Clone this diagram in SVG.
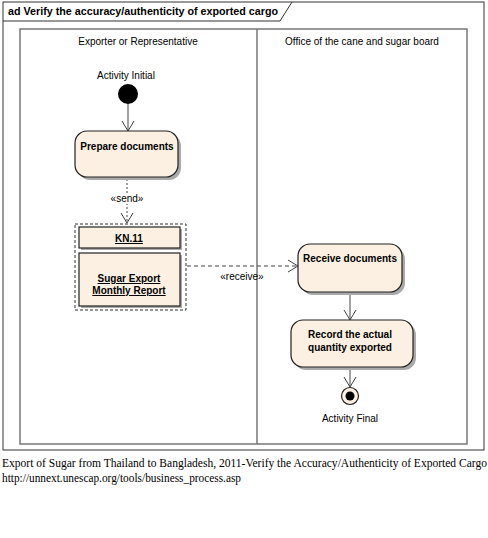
<svg xmlns="http://www.w3.org/2000/svg" width="488" height="538" viewBox="0 0 488 538">
<defs>
<style>
.frame{fill:none;stroke:#333;stroke-width:1}
.lane{fill:none;stroke:#777;stroke-width:1.5}
.node{fill:#FBF0E2;stroke:#222;stroke-width:1.2}
.shadow{fill:#aaa}
.t{font-family:"Liberation Sans",Arial,sans-serif;font-size:10px;fill:#000}
.b{font-family:"Liberation Sans",Arial,sans-serif;font-size:10px;font-weight:bold;fill:#000}
.cap{font-family:"Liberation Serif","Times New Roman",serif;font-size:11.5px;fill:#000}
.edge{fill:none;stroke:#444;stroke-width:1}
</style>
<marker id="open" markerWidth="12" markerHeight="14" refX="11" refY="7" orient="auto" markerUnits="userSpaceOnUse">
<path d="M1,1 L11,7 L1,13" fill="none" stroke="#444" stroke-width="1"/>
</marker>
</defs>
<rect x="0" y="0" width="488" height="538" fill="#fff"/>
<g id="frame">
<rect x="3" y="2" width="481" height="448" class="frame"/>
<path d="M3,21 H280 L292,2" class="frame"/>
<text x="8" y="15" class="b" font-size="11" textLength="270" lengthAdjust="spacingAndGlyphs">ad Verify the accuracy/authenticity of exported cargo</text>
</g>
<g id="lanes">
<rect x="20" y="29" width="447" height="415" class="lane"/>
<line x1="257" y1="29" x2="257" y2="444" class="lane"/>
<text x="138" y="45" class="t" text-anchor="middle">Exporter or Representative</text>
<text x="362" y="45" class="t" text-anchor="middle">Office of the cane and sugar board</text>
</g>
<g id="connectors">
<line x1="128" y1="104" x2="128" y2="131" class="edge" marker-end="url(#open)"/>
<line x1="127" y1="179" x2="127" y2="223" class="edge" stroke-dasharray="2,2" marker-end="url(#open)"/>
<rect x="108" y="193" width="40" height="11" fill="#fff"/>
<text x="127" y="202" class="t" font-size="9" text-anchor="middle">«send»</text>
<line x1="187" y1="266" x2="298" y2="266" class="edge" stroke-dasharray="4,3" marker-end="url(#open)"/>
<text x="242" y="280" class="t" font-size="9" text-anchor="middle">«receive»</text>
<line x1="350" y1="292" x2="350" y2="320" class="edge" marker-end="url(#open)"/>
<line x1="350" y1="367" x2="350" y2="387" class="edge" marker-end="url(#open)"/>
</g>
<g id="initial">
<text x="126" y="79" class="t" font-size="9.5" text-anchor="middle">Activity Initial</text>
<circle cx="128" cy="94" r="10" fill="#000"/>
</g>
<g id="prepare">
<rect x="78" y="134" width="103" height="46" rx="12" class="shadow"/>
<rect x="75" y="131" width="103" height="46" rx="12" class="node"/>
<text x="127" y="150" class="b" text-anchor="middle">Prepare documents</text>
</g>
<g id="docs">
<rect x="75" y="224" width="111" height="86" fill="none" stroke="#333" stroke-width="1" stroke-dasharray="3,2"/>
<g id="kn11">
<rect x="81" y="229" width="101" height="21" class="shadow"/>
<rect x="79" y="227" width="101" height="21" class="node"/>
<text x="129" y="242" class="b" text-anchor="middle" text-decoration="underline">KN.11</text>
</g>
<g id="sugar">
<rect x="81" y="255" width="101" height="53" class="shadow"/>
<rect x="79" y="253" width="101" height="53" class="node"/>
<text x="129" y="282" class="b" text-anchor="middle" text-decoration="underline">Sugar Export</text>
<text x="129" y="294" class="b" text-anchor="middle" text-decoration="underline">Monthly Report</text>
</g>
</g>
<g id="receive">
<rect x="301" y="247" width="104" height="48" rx="12" class="shadow"/>
<rect x="298" y="244" width="104" height="48" rx="12" class="node"/>
<text x="350" y="262" class="b" text-anchor="middle">Receive documents</text>
</g>
<g id="record">
<rect x="294" y="323" width="122" height="47" rx="12" class="shadow"/>
<rect x="291" y="320" width="122" height="47" rx="12" class="node"/>
<text x="350" y="338" class="b" text-anchor="middle">Record the actual</text>
<text x="350" y="351" class="b" text-anchor="middle">quantity exported</text>
</g>
<g id="final">
<circle cx="350" cy="396" r="8.5" fill="#FBF0E2" stroke="#222" stroke-width="1.2"/>
<circle cx="350" cy="396" r="4.5" fill="#000"/>
<text x="350" y="422" class="t" font-size="9.5" text-anchor="middle">Activity Final</text>
</g>
<g id="caption">
<text x="2" y="467" class="cap" textLength="485" lengthAdjust="spacingAndGlyphs">Export of Sugar from Thailand to Bangladesh, 2011-Verify the Accuracy/Authenticity of Exported Cargo</text>
<text x="2" y="482" class="cap" textLength="239" lengthAdjust="spacingAndGlyphs">http://unnext.unescap.org/tools/business_process.asp</text>
</g>
</svg>
